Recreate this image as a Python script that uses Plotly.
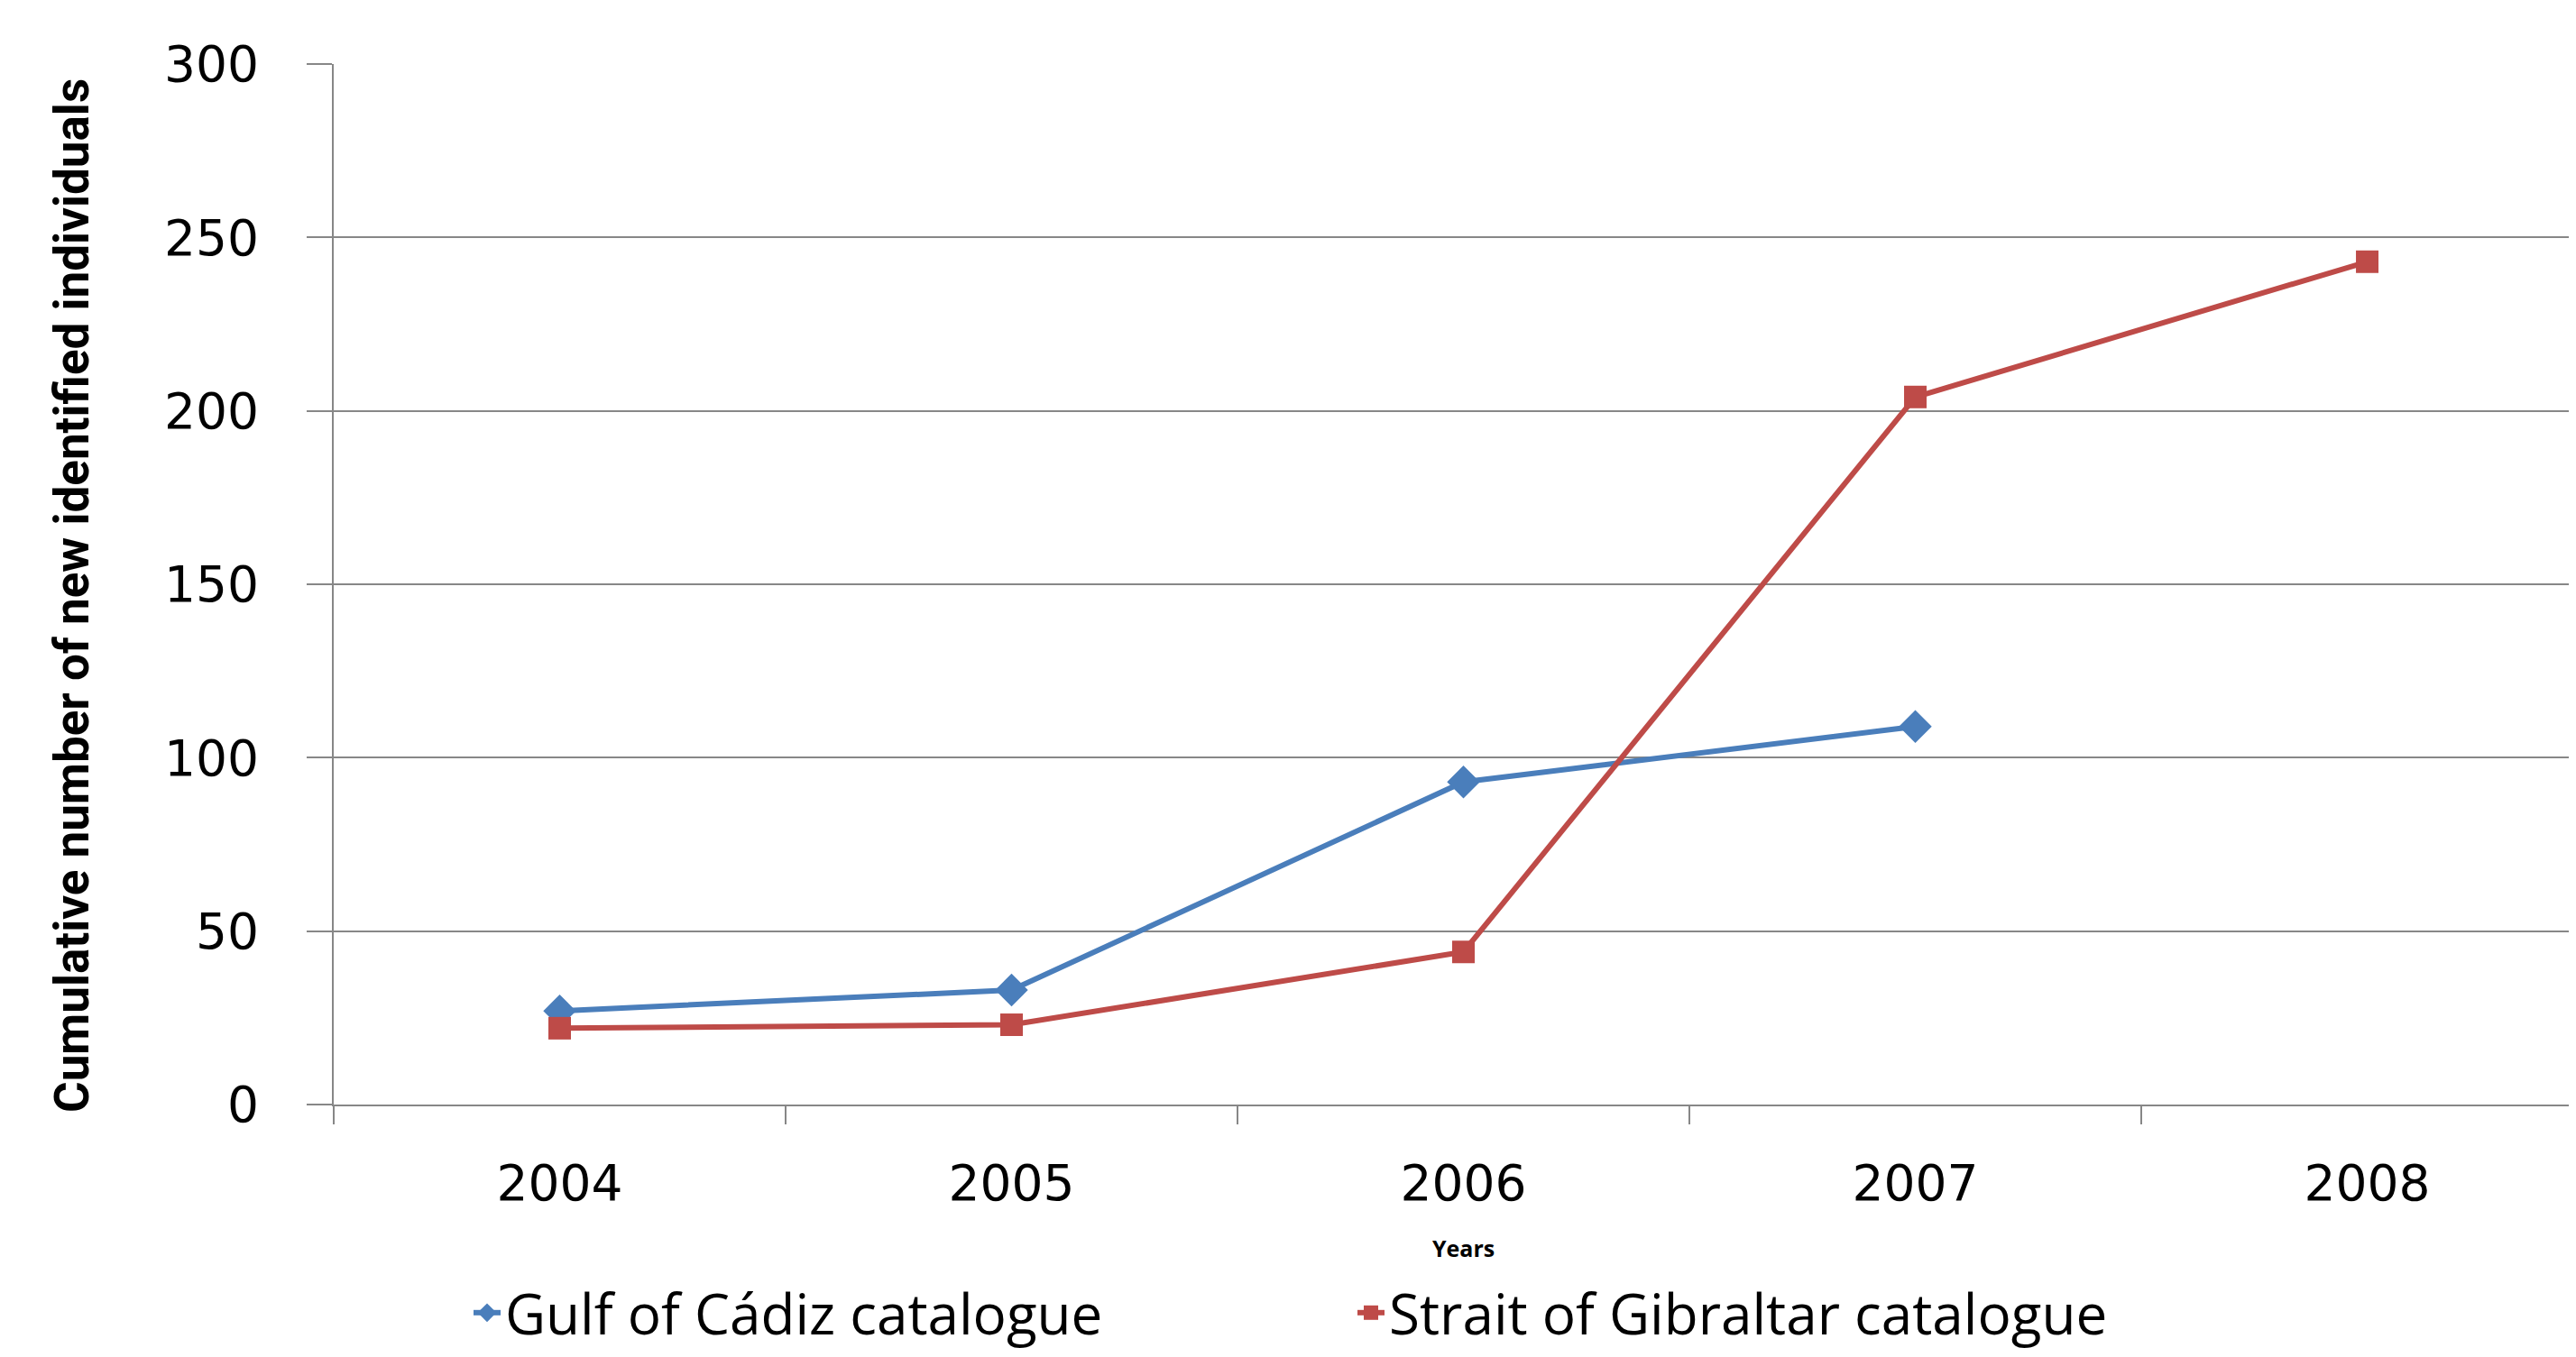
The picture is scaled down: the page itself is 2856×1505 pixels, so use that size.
import plotly.graph_objects as go

years = ["2004", "2005", "2006", "2007", "2008"]
gulf_cadiz = [27, 33, 93, 109, None]
strait_gibraltar = [22, 23, 44, 204, 243]
y_ticks = [0, 50, 100, 150, 200, 250, 300]

# page geometry (the html body adds an 8px offset)
OFF = 8
PAGE_W, PAGE_H = 2856, 1505
PLOT_L, PLOT_T, PLOT_B = 370, 71, 1225
W, H = PAGE_W - OFF, PAGE_H - OFF
L, T, R, B = PLOT_L - OFF, PLOT_T - OFF, 0, PAGE_H - PLOT_B
plot_w = PAGE_W - PLOT_L
plot_h = PLOT_B - PLOT_T


def px(xp):
    return (xp - PLOT_L) / plot_w


def py(yp):
    return (PLOT_B - yp) / plot_h


grid_col = "#878787"

fig = go.Figure()
fig.add_trace(go.Scatter(
    x=years, y=gulf_cadiz, mode="lines+markers", name="Gulf of Cádiz catalogue",
    line=dict(color="#4A7EBB", width=6),
    marker=dict(symbol="diamond", size=28, color="#4A7EBB"),
))
fig.add_trace(go.Scatter(
    x=years, y=strait_gibraltar, mode="lines+markers", name="Strait of Gibraltar catalogue",
    line=dict(color="#BE4B48", width=6),
    marker=dict(symbol="square", size=25, color="#BE4B48"),
))

fig.update_layout(
    width=W, height=H,
    margin=dict(l=L, r=R, t=T, b=B, pad=0, autoexpand=False),
    paper_bgcolor="white", plot_bgcolor="white",
    showlegend=True,
    legend=dict(
        orientation="h", x=px(520), xanchor="left", y=py(1503), yanchor="bottom",
        font=dict(family="Open Sans, Lato, sans-serif", size=62, color="black"),
        entrywidth=935, entrywidthmode="pixels", itemwidth=30,
        bgcolor="rgba(0,0,0,0)",
    ),
    xaxis=dict(
        type="category", range=[-0.5, 4.462], automargin=False,
        showgrid=False, showline=True, linecolor=grid_col, linewidth=2,
        ticks="outside", tickson="boundaries", ticklen=20, tickwidth=2, tickcolor=grid_col,
        tickfont=dict(family="DejaVu Sans", size=55, color="black"),
        ticklabelstandoff=38,
        zeroline=False,
    ),
    yaxis=dict(
        range=[0, 300], tickvals=y_ticks, automargin=False,
        showgrid=True, gridcolor=grid_col, gridwidth=2,
        showline=True, linecolor=grid_col, linewidth=2,
        ticks="outside", ticklen=28, tickwidth=2, tickcolor=grid_col,
        tickfont=dict(family="DejaVu Sans", size=55, color="black"),
        ticklabelstandoff=42,
        zeroline=False,
    ),
    annotations=[
        dict(text="Cumulative number of new identified individuals", textangle=-90,
             xref="paper", yref="paper", x=px(80), y=py(661),
             xanchor="center", yanchor="middle", showarrow=False,
             font=dict(family="Roboto, Liberation Sans Narrow, sans-serif",
                       size=53, color="black", weight="bold")),
        dict(text="Years", xref="paper", yref="paper", x=px(1622), y=py(1384),
             xanchor="center", yanchor="middle", showarrow=False,
             font=dict(family="Open Sans, Lato, sans-serif", size=25, color="black", weight="bold")),
    ],
)

fig.write_html("out.html")
